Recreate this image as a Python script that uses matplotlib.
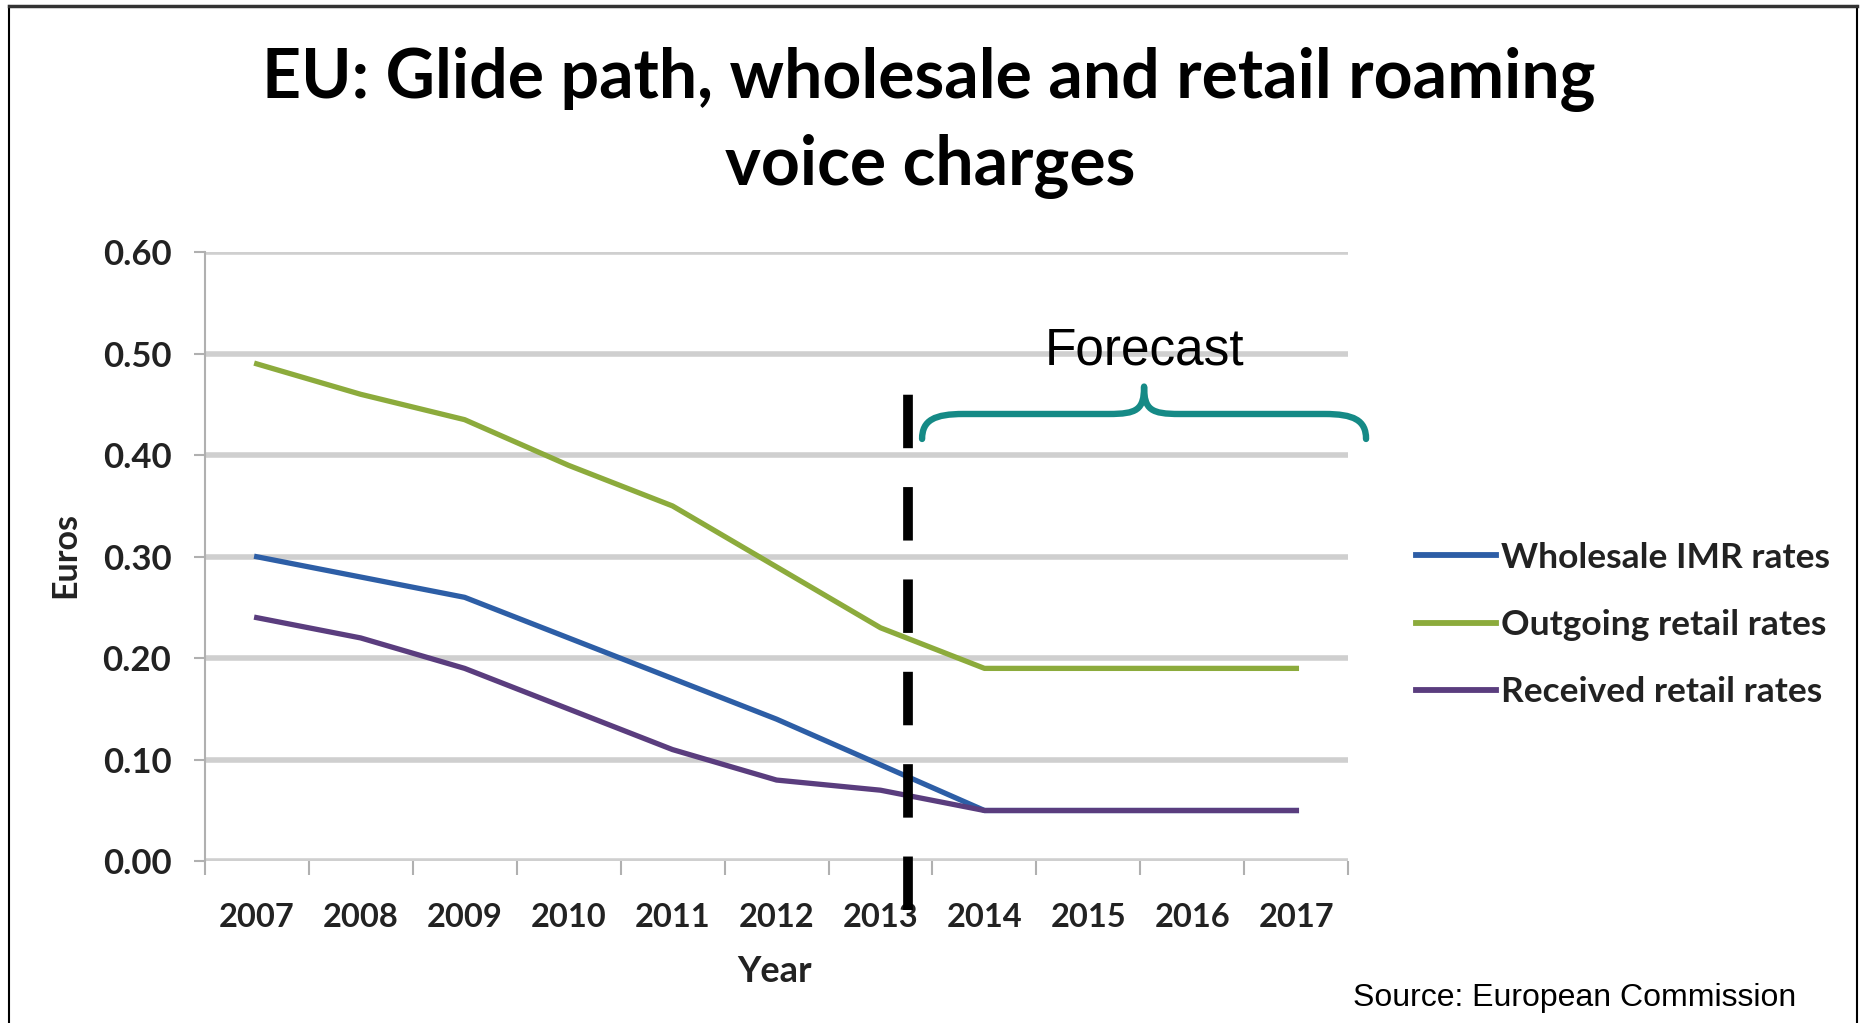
import matplotlib.pyplot as plt
from matplotlib.path import Path
from matplotlib.patches import PathPatch
from matplotlib.lines import Line2D

years = [2007, 2008, 2009, 2010, 2011, 2012, 2013, 2014, 2015, 2016, 2017]
wholesale = [0.30, 0.28, 0.26, 0.22, 0.18, 0.14, 0.095, 0.05, 0.05, 0.05, 0.05]
outgoing = [0.49, 0.46, 0.435, 0.39, 0.35, 0.29, 0.23, 0.19, 0.19, 0.19, 0.19]
received = [0.24, 0.22, 0.19, 0.15, 0.11, 0.08, 0.07, 0.05, 0.05, 0.05, 0.05]
series_names = ["Wholesale IMR rates", "Outgoing retail rates", "Received retail rates"]
series_colors = ["#2d5ea6", "#8cab3c", "#5a3d7e"]
yticks = [0.0, 0.1, 0.2, 0.3, 0.4, 0.5, 0.6]
forecast_split = 2013.26

fig = plt.figure(figsize=(18.66, 10.23), dpi=100)
ax = fig.add_axes([0.1097, 0.1581, 0.6129, 0.5954])

for vals, col in zip([wholesale, outgoing, received], series_colors):
    ax.plot(years, vals, color=col, lw=3.8, solid_joinstyle='round', zorder=3)

ax.set_xlim(2006.5, 2017.5)
ax.set_ylim(0, 0.6)
ax.set_yticks(yticks)
ax.set_yticklabels(["%.2f" % v for v in yticks])
ax.set_xticks(years)
ax.set_xticklabels([str(y) for y in years])
ax.set_xticks([y + 0.5 for y in [2006] + years], minor=True)

ax.grid(axis='y', color='#cfcfcf', lw=4, zorder=1)
for s in ['top', 'right', 'bottom']:
    ax.spines[s].set_visible(False)
ax.spines['left'].set_color('#b0b0b0')
ax.spines['left'].set_linewidth(1.5)
ax.tick_params(axis='x', which='major', length=0, pad=30, labelsize=23.5, labelcolor='#222222')
ax.tick_params(axis='x', which='minor', length=10, width=1.5, color='#b0b0b0')
ax.tick_params(axis='y', length=8, width=1.5, color='#b0b0b0', pad=16, labelsize=25, labelcolor='#222222')
for lab in ax.get_xticklabels() + ax.get_yticklabels():
    lab.set_fontweight('bold')
    lab.set_family('Lato')

# forecast divider
ax.plot([forecast_split, forecast_split], [-0.048, 0.468], color='black', lw=7,
        dashes=(5.5, 4), clip_on=False, zorder=6)

# curly brace over the forecast period
x0, x1 = 2013.4, 2017.67
xm = (x0 + x1) / 2
yb, yh, yt = 0.416, 0.4406, 0.4676
verts = [(x0, yb), (x0, yh - 0.006), (x0 + 0.12, yh), (x0 + 0.4, yh),
         (xm - 0.34, yh),
         (xm - 0.07, yh), (xm, yh + 0.004), (xm, yt),
         (xm, yh + 0.004), (xm + 0.07, yh), (xm + 0.34, yh),
         (x1 - 0.4, yh),
         (x1 - 0.12, yh), (x1, yh - 0.006), (x1, yb)]
codes = [Path.MOVETO, Path.CURVE4, Path.CURVE4, Path.CURVE4,
         Path.LINETO,
         Path.CURVE4, Path.CURVE4, Path.CURVE4,
         Path.CURVE4, Path.CURVE4, Path.CURVE4,
         Path.LINETO,
         Path.CURVE4, Path.CURVE4, Path.CURVE4]
brace = PathPatch(Path(verts, codes), fill=False, edgecolor='#158a86', lw=4.6,
                  capstyle='round', joinstyle='round', clip_on=False, zorder=6)
ax.add_patch(brace)

fig.text(0.6135, 0.657, "Forecast", ha='center', va='center', fontsize=37, family='Liberation Sans')

fig.text(0.4975, 0.922, "EU: Glide path, wholesale and retail roaming", ha='center', va='center',
         fontsize=49, fontweight='bold', family='Lato')
fig.text(0.4985, 0.837, "voice charges", ha='center', va='center',
         fontsize=49, fontweight='bold', family='Lato')
fig.text(0.035, 0.457, "Euros", rotation=90, ha='center', va='center', fontsize=24.5,
         fontweight='bold', family='Lato', color='#222222')
fig.text(0.415, 0.05, "Year", ha='center', va='center', fontsize=26,
         fontweight='bold', family='Lato', color='#222222')
fig.text(0.725, 0.024, "Source: European Commission", ha='left', va='center', fontsize=23,
         family='Liberation Sans')

handles = [Line2D([], [], color=c, lw=4.2) for c in series_colors]
leg = fig.legend(handles, series_names, loc='center left', bbox_to_anchor=(0.742, 0.389),
                 frameon=False, handlelength=2.25, handletextpad=0.15, labelspacing=1.0,
                 prop={'family': 'Lato', 'weight': 'bold', 'size': 25.5})
for t in leg.get_texts():
    t.set_color('#222222')

# outer frame
fig.add_artist(Line2D([0.005, 0.005], [0.0, 0.994], color='black', lw=1.5))
fig.add_artist(Line2D([0.995, 0.995], [0.0, 0.994], color='black', lw=1.5))
fig.add_artist(Line2D([0.005, 0.995], [0.994, 0.994], color='#333333', lw=2.5))

fig.savefig("out.png", dpi=100, facecolor='white')
